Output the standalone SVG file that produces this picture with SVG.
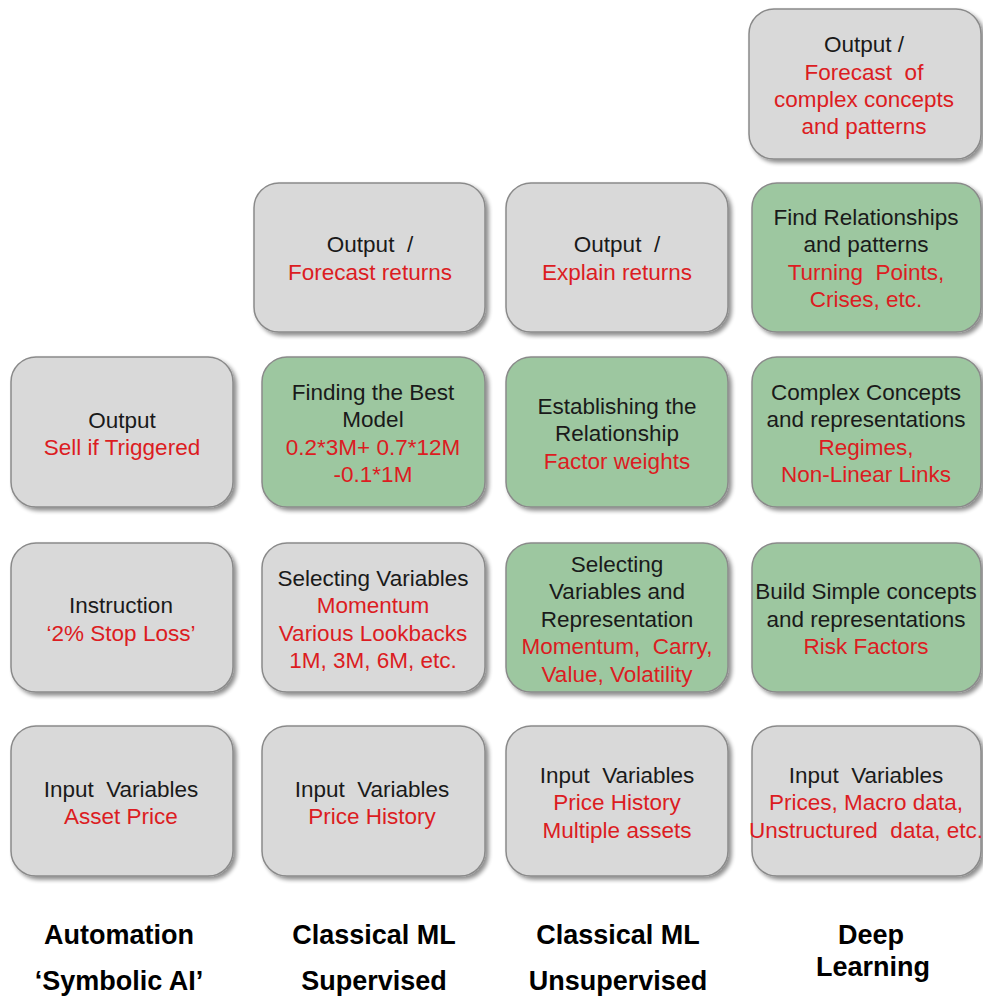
<svg xmlns="http://www.w3.org/2000/svg" width="983" height="996" viewBox="0 0 983 996">
<defs>
<filter id="sh" x="-10%" y="-10%" width="125%" height="125%">
<feGaussianBlur in="SourceAlpha" stdDeviation="2"/>
<feOffset dx="3" dy="3" result="b"/>
<feComponentTransfer><feFuncA type="linear" slope="0.45"/></feComponentTransfer>
<feMerge><feMergeNode/><feMergeNode in="SourceGraphic"/></feMerge>
</filter>
</defs>
<style>
.g{fill:#d9d9d9;stroke:#8a8a8a;stroke-width:1.5;filter:url(#sh)}
.n{fill:#9dc7a0;stroke:#8a8a8a;stroke-width:1.5;filter:url(#sh)}
text{font-family:"Liberation Sans",Arial,sans-serif;font-size:22.5px;text-anchor:middle;fill:#1a1a1a;white-space:pre}
.r{fill:#dc1c22}
.b{font-weight:bold;font-size:27px;fill:#000}
</style>
<rect width="983" height="996" fill="#fff"/>
<g id="connectors"/>

<g id="c4r1"><rect class="g" x="749" y="9" width="232" height="150" rx="25"/>
<text x="864" y="52">Output /</text><text class="r" x="864" y="80" xml:space="preserve">Forecast  of</text><text class="r" x="864" y="107">complex concepts</text><text class="r" x="864" y="134">and patterns</text></g>

<g id="c2r2"><rect class="g" x="254" y="183" width="231" height="149" rx="25"/>
<text x="370" y="252" xml:space="preserve">Output  /</text><text class="r" x="370" y="280">Forecast returns</text></g>
<g id="c3r2"><rect class="g" x="506" y="183" width="222" height="149" rx="25"/>
<text x="617" y="252" xml:space="preserve">Output  /</text><text class="r" x="617" y="280">Explain returns</text></g>
<g id="c4r2"><rect class="n" x="752" y="183" width="229" height="149" rx="25"/>
<text x="866" y="225">Find Relationships</text><text x="866" y="252">and patterns</text><text class="r" x="866" y="280" xml:space="preserve">Turning  Points,</text><text class="r" x="866" y="307">Crises, etc.</text></g>

<g id="c1r3"><rect class="g" x="11" y="357" width="222" height="150" rx="25"/>
<text x="122" y="428">Output</text><text class="r" x="122" y="455">Sell if Triggered</text></g>
<g id="c2r3"><rect class="n" x="262" y="357" width="223" height="150" rx="25"/>
<text x="373" y="400">Finding the Best</text><text x="373" y="427">Model</text><text class="r" x="373" y="455">0.2*3M+ 0.7*12M</text><text class="r" x="373" y="482">-0.1*1M</text></g>
<g id="c3r3"><rect class="n" x="506" y="357" width="222" height="150" rx="25"/>
<text x="617" y="414">Establishing the</text><text x="617" y="441">Relationship</text><text class="r" x="617" y="469">Factor weights</text></g>
<g id="c4r3"><rect class="n" x="752" y="357" width="229" height="150" rx="25"/>
<text x="866" y="400">Complex Concepts</text><text x="866" y="427">and representations</text><text class="r" x="866" y="455">Regimes,</text><text class="r" x="866" y="482">Non-Linear Links</text></g>

<g id="c1r4"><rect class="g" x="11" y="543" width="222" height="149" rx="25"/>
<text x="121" y="613">Instruction</text><text class="r" x="121" y="641">‘2% Stop Loss’</text></g>
<g id="c2r4"><rect class="g" x="262" y="543" width="223" height="149" rx="25"/>
<text x="373" y="586">Selecting Variables</text><text class="r" x="373" y="613">Momentum</text><text class="r" x="373" y="641">Various Lookbacks</text><text class="r" x="373" y="668">1M, 3M, 6M, etc.</text></g>
<g id="c3r4"><rect class="n" x="506" y="543" width="222" height="149" rx="25"/>
<text x="617" y="572">Selecting</text><text x="617" y="599">Variables and</text><text x="617" y="627">Representation</text><text class="r" x="617" y="654" xml:space="preserve">Momentum,  Carry,</text><text class="r" x="617" y="682">Value, Volatility</text></g>
<g id="c4r4"><rect class="n" x="752" y="543" width="229" height="149" rx="25"/>
<text x="866" y="599">Build Simple concepts</text><text x="866" y="627">and representations</text><text class="r" x="866" y="654">Risk Factors</text></g>

<g id="c1r5"><rect class="g" x="11" y="726" width="222" height="150" rx="25"/>
<text x="121" y="797" xml:space="preserve">Input  Variables</text><text class="r" x="121" y="824">Asset Price</text></g>
<g id="c2r5"><rect class="g" x="262" y="726" width="223" height="150" rx="25"/>
<text x="372" y="797" xml:space="preserve">Input  Variables</text><text class="r" x="372" y="824">Price History</text></g>
<g id="c3r5"><rect class="g" x="506" y="726" width="222" height="150" rx="25"/>
<text x="617" y="783" xml:space="preserve">Input  Variables</text><text class="r" x="617" y="810">Price History</text><text class="r" x="617" y="838">Multiple assets</text></g>
<g id="c4r5"><rect class="g" x="752" y="726" width="229" height="150" rx="25"/>
<text x="866" y="783" xml:space="preserve">Input  Variables</text><text class="r" x="866" y="810">Prices, Macro data,</text><text class="r" x="866" y="838" xml:space="preserve">Unstructured  data, etc.</text></g>

<g id="labels">
<text class="b" x="119" y="944">Automation</text><text class="b" x="119" y="990">‘Symbolic AI’</text>
<text class="b" x="374" y="944">Classical ML</text><text class="b" x="374" y="990">Supervised</text>
<text class="b" x="618" y="944">Classical ML</text><text class="b" x="618" y="990">Unsupervised</text>
<text class="b" x="871" y="944">Deep</text><text class="b" x="873" y="976">Learning</text>
</g>
</svg>
